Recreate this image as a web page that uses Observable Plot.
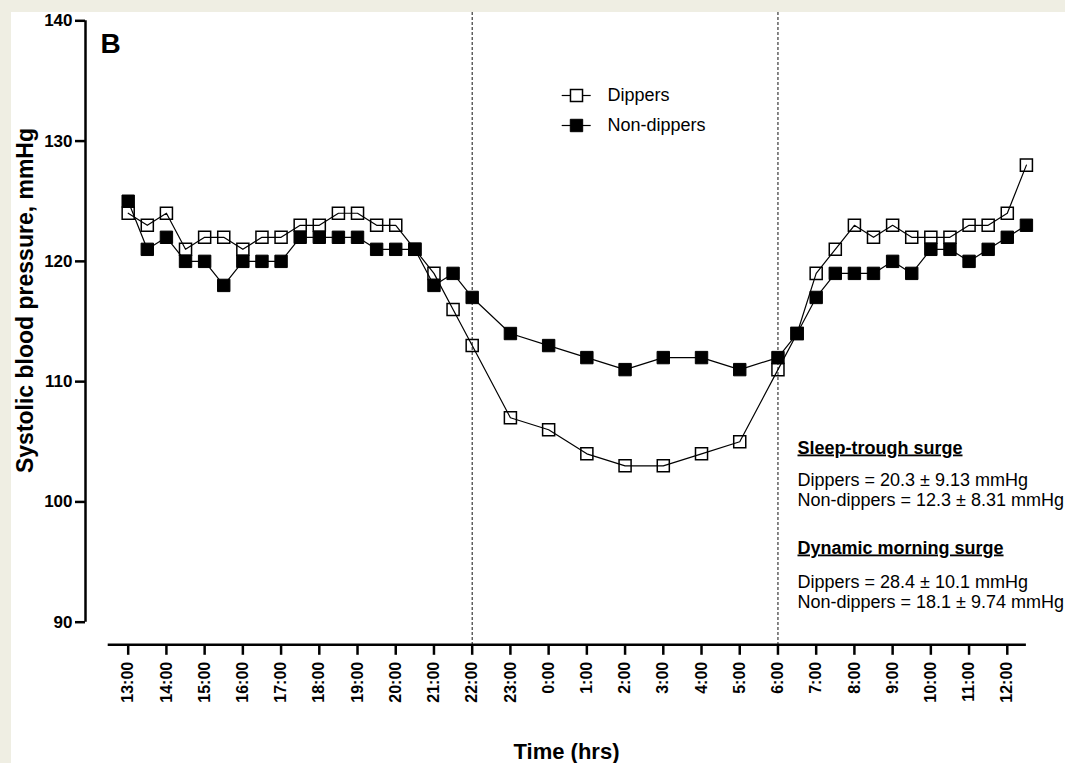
<!DOCTYPE html>
<html><head><meta charset="utf-8">
<script src="https://cdn.jsdelivr.net/npm/d3@7"></script>
<script src="https://cdn.jsdelivr.net/npm/@observablehq/plot@0.6"></script>
<style>
html,body{margin:0;padding:0;background:#efeee3;width:1065px;height:763px;overflow:hidden;}
#panel{position:absolute;left:11px;top:12px;width:1054px;height:751px;background:#fff;}
#panel svg{display:block;overflow:visible;}
</style></head><body><div id="panel"></div>
<script>
// ---- data ----
const times = ["13:00","13:30","14:00","14:30","15:00","15:30","16:00","16:30","17:00","17:30",
  "18:00","18:30","19:00","19:30","20:00","20:30","21:00","21:30","22:00",
  "23:00","0:00","1:00","2:00","3:00","4:00","5:00",
  "6:00","6:30","7:00","7:30","8:00","8:30","9:00","9:30","10:00","10:30","11:00","11:30","12:00","12:30"];
const dippers = [124,123,124,121,122,122,121,122,122,123,
  123,124,124,123,123,121,119,116,113,
  107,106,104,103,103,104,105,
  111,114,119,121,123,122,123,122,122,122,123,123,124,128];
const nonDippers = [125,121,122,120,120,118,120,120,120,122,
  122,122,122,121,121,121,118,119,117,
  114,113,112,111,112,112,111,
  112,114,117,119,119,119,120,119,121,121,120,121,122,123];
const tickLabels = ["13:00","14:00","15:00","16:00","17:00","18:00","19:00","20:00","21:00","22:00","23:00",
  "0:00","1:00","2:00","3:00","4:00","5:00","6:00","7:00","8:00","9:00","10:00","11:00","12:00"];
const yTicks = [90,100,110,120,130,140];
const seriesNames = ["Dippers","Non-dippers"];
const nightBounds = ["22:00","6:00"];
const panelLabel = "B";
const xTitle = "Time (hrs)";
const yTitle = "Systolic blood pressure, mmHg";
const notesSleep = ["Sleep-trough surge","Dippers = 20.3 \u00b1 9.13 mmHg","Non-dippers = 12.3 \u00b1 8.31 mmHg"];
const notesMorning = ["Dynamic morning surge","Dippers = 28.4 \u00b1 10.1 mmHg","Non-dippers = 18.1 \u00b1 9.74 mmHg"];

// ---- helpers ----
const toHour = s => { const [h, m] = s.split(":").map(Number); return ((h + m / 60) - 13 + 24) % 24; };
const dipRows = times.map((t, i) => ({h: toHour(t), v: dippers[i]}));
const nonRows = times.map((t, i) => ({h: toHour(t), v: nonDippers[i]}));

const W = 1054, H = 751;
const mT = 8.3, mB = 141.3, mL = 74, mR = 39.1;
const xDom = [-1.117, 23.5];
const pxY = (H - mT - mB) / 50;            // px per mmHg
const pxX = (W - mL - mR) / (xDom[1] - xDom[0]); // px per hour
const vAt = py => 140 - (py - mT) / pxY;   // svg px -> mmHg
const hAt = px => xDom[0] + (px - mL) / pxX; // svg px -> hours
const yAxisLine = vAt(632.3);
const font = "'Liberation Sans', Arial, Helvetica, sans-serif";

// layout of annotations (svg px)
const noteX = hAt(786);
const sleepY = [441, 473, 493].map(vAt);
const mornY = [541, 575, 595].map(vAt);
const legY = [83, 113].map(vAt);
const legX1 = hAt(550.7), legX2 = hAt(579.7), legXm = hAt(565), legXt = hAt(596);

const chart = Plot.plot({
  width: W, height: H,
  marginTop: mT, marginBottom: mB, marginLeft: mL, marginRight: mR,
  style: {fontFamily: font, background: "transparent", color: "#000", overflow: "visible"},
  x: {domain: xDom, axis: null},
  y: {domain: [90, 140]},
  marks: [
    // night boundaries
    Plot.ruleX(nightBounds, {x: toHour, y1: vAt(0), y2: yAxisLine, stroke: "#111", strokeWidth: 1, strokeDasharray: "3,2"}),
    // y axis
    Plot.ruleX([xDom[0]], {y1: 90, y2: 140, stroke: "#000", strokeWidth: 2.5}),
    Plot.axisY(yTicks, {tickSize: 10, tickPadding: 3, fontSize: 17, fontWeight: "bold", strokeWidth: 2.5, label: null}),
    // x axis (offset)
    Plot.ruleY([yAxisLine], {x1: hAt(96.7), x2: xDom[1], stroke: "#000", strokeWidth: 2.5}),
    Plot.ruleX(tickLabels, {x: toHour, y1: yAxisLine, y2: yAxisLine - 10.5 / pxY, stroke: "#000", strokeWidth: 2.5}),
    Plot.text(tickLabels, {x: toHour, y: yAxisLine, text: d => d, rotate: -90, textAnchor: "end", dy: 17, fontSize: 16, fontWeight: "bold"}),
    // series
    Plot.line(dipRows, {x: "h", y: "v", stroke: "#000", strokeWidth: 1.2}),
    Plot.dot(dipRows, {x: "h", y: "v", symbol: "square", r: 6.8, fill: "none", stroke: "#000", strokeWidth: 1.5}),
    Plot.line(nonRows, {x: "h", y: "v", stroke: "#000", strokeWidth: 1.2}),
    Plot.dot(nonRows, {x: "h", y: "v", symbol: "square", r: 7, fill: "#000", stroke: "#000", strokeWidth: 1}),
    // legend
    Plot.ruleY(legY, {y: d => d, x1: legX1, x2: legX2, stroke: "#000", strokeWidth: 1.2}),
    Plot.dot([legY[0]], {x: legXm, y: d => d, symbol: "square", r: 6.8, fill: "#fff", stroke: "#000", strokeWidth: 1.5}),
    Plot.dot([legY[1]], {x: legXm, y: d => d, symbol: "square", r: 7, fill: "#000", stroke: "#000", strokeWidth: 1}),
    Plot.text(seriesNames, {x: legXt, y: (d, i) => legY[i], text: d => d, textAnchor: "start", fontSize: 18}),
    // panel label
    Plot.text([panelLabel], {x: hAt(89), y: vAt(40), text: d => d, textAnchor: "start", lineAnchor: "bottom", fontSize: 28, fontWeight: "bold"}),
    // annotations
    Plot.text(notesSleep, {x: noteX, y: (d, i) => sleepY[i], text: d => d, textAnchor: "start", lineAnchor: "bottom", fontSize: 18, fontWeight: (d, i) => i === 0 ? "bold" : "normal"}),
    Plot.text(notesMorning, {x: noteX, y: (d, i) => mornY[i], text: d => d, textAnchor: "start", lineAnchor: "bottom", fontSize: 18, fontWeight: (d, i) => i === 0 ? "bold" : "normal"}),
    // axis titles
    Plot.text([xTitle], {x: hAt(555), y: vAt(746), text: d => d, textAnchor: "middle", lineAnchor: "bottom", fontSize: 22, fontWeight: "bold"}),
    Plot.text([yTitle], {x: hAt(14), y: vAt(288), text: d => d, rotate: -90, textAnchor: "middle", fontSize: 23, fontWeight: "bold"})
  ]
});
document.getElementById("panel").appendChild(chart);
// underline the annotation headings & enforce weights
chart.querySelectorAll("text").forEach(t => {
  const s = t.textContent;
  if (s === notesSleep[0] || s === notesMorning[0]) { t.style.textDecoration = "underline"; t.setAttribute("font-weight", "bold"); }
});
</script></body></html>
